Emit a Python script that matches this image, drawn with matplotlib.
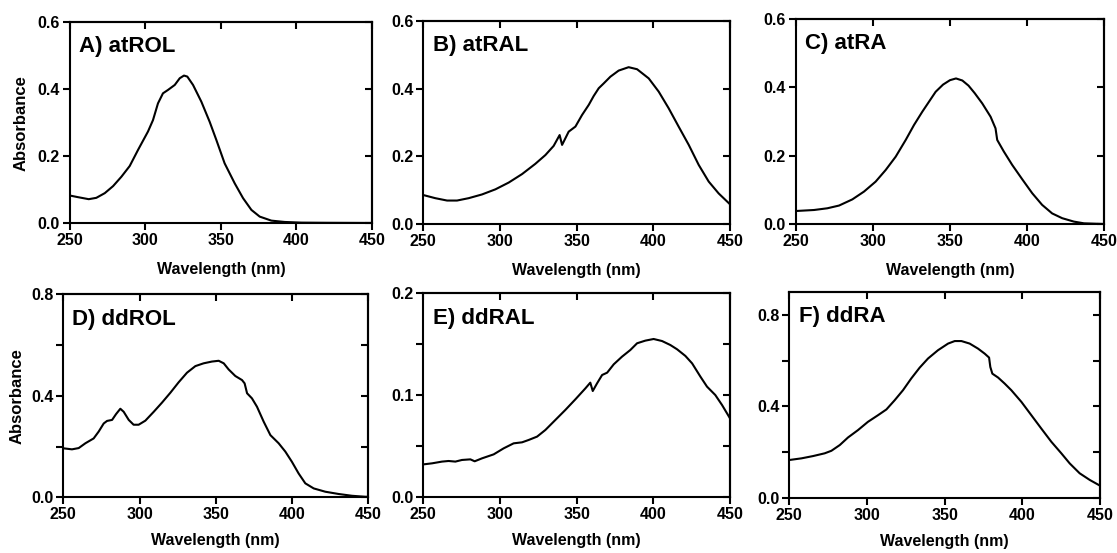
import matplotlib
matplotlib.use("Agg")
from matplotlib import pyplot as plt
import numpy as np

plt.rcParams['font.family'] = ['Liberation Sans', 'DejaVu Sans']
plt.rcParams['font.weight'] = 'bold'

# A) atROL
wl_a = [250, 255.5, 262.6, 267.6, 273.2, 278.7, 284.2, 289.7, 295.2, 301.8, 305.1, 308.4, 311.7,
        315.0, 319.5, 322.8, 325.6, 327.8, 331.6, 337.1, 342.6, 347.0, 352.5, 359.2, 364.7,
        370.2, 375.7, 383.4, 392.2, 403.3, 420, 450]
ab_a = [0.083, 0.078, 0.072, 0.076, 0.090, 0.111, 0.139, 0.171, 0.219, 0.274, 0.308, 0.358,
        0.388, 0.398, 0.413, 0.433, 0.441, 0.438, 0.413, 0.363, 0.303, 0.249, 0.179, 0.119,
        0.075, 0.040, 0.020, 0.008, 0.004, 0.002, 0.0015, 0.001]

# B) atRAL
wl_b = [250.2, 257.8, 265.5, 272.0, 279.6, 288.3, 297.0, 305.7, 314.4, 323.0, 329.6, 335.0,
        338.9, 340.5, 344.8, 349.2, 353.5, 357.9, 361.1, 364.4, 367.6, 372.0, 377.4, 383.9,
        389.4, 397.0, 403.5, 410.0, 416.5, 423.1, 429.6, 436.1, 442.6, 450]
ab_b = [0.086, 0.077, 0.070, 0.070, 0.077, 0.088, 0.103, 0.123, 0.148, 0.178, 0.204, 0.231,
        0.263, 0.234, 0.273, 0.288, 0.322, 0.352, 0.378, 0.401, 0.415, 0.435, 0.453, 0.463,
        0.457, 0.430, 0.391, 0.342, 0.288, 0.234, 0.175, 0.126, 0.091, 0.059]

# C) atRA
wl_c = [250, 261.9, 270.5, 278.1, 286.7, 294.3, 301.8, 308.3, 314.8, 321.3, 326.7, 332.1,
        336.4, 340.7, 345.5, 350.0, 353.9, 358.0, 362.0, 366.0, 370.9, 376.3, 379.5, 380.6,
        384.9, 390.3, 396.8, 403.3, 409.7, 416.2, 422.7, 430.3, 436.8, 450]
ab_c = [0.038, 0.041, 0.046, 0.054, 0.072, 0.095, 0.124, 0.158, 0.197, 0.246, 0.290, 0.329,
        0.358, 0.387, 0.408, 0.421, 0.426, 0.420, 0.405, 0.383, 0.353, 0.314, 0.280, 0.246,
        0.212, 0.173, 0.131, 0.090, 0.056, 0.031, 0.017, 0.007, 0.002, 0.000]

# D) ddROL
wl_d = [250.2, 255.7, 260.1, 264.5, 269.9, 273.2, 276.5, 278.7, 282.0, 284.6, 287.4, 289.6,
        292.9, 296.1, 299.4, 303.8, 309.3, 314.7, 320.2, 325.6, 331.1, 336.6, 342.0, 347.5,
        351.9, 355.2, 358.4, 362.8, 367.2, 368.9, 370.5, 373.7, 377.0, 381.4, 385.8, 391.2,
        395.6, 399.9, 404.3, 408.7, 414.2, 421.8, 430.6, 439.3, 448.1, 450]
ab_d = [0.193, 0.189, 0.194, 0.213, 0.232, 0.259, 0.291, 0.301, 0.305, 0.328, 0.349, 0.337,
        0.305, 0.286, 0.286, 0.302, 0.337, 0.373, 0.412, 0.453, 0.491, 0.517, 0.528, 0.535,
        0.538, 0.528, 0.504, 0.478, 0.462, 0.449, 0.410, 0.390, 0.357, 0.298, 0.245, 0.213,
        0.180, 0.140, 0.094, 0.055, 0.035, 0.022, 0.013, 0.006, 0.002, 0.002]

# E) ddRAL
wl_e = [250.2, 255.7, 262.2, 266.5, 270.9, 275.2, 280.7, 283.5, 288.3, 295.9, 302.4, 308.9,
        314.4, 318.7, 324.2, 329.6, 336.1, 342.6, 349.2, 355.7, 358.9, 360.5, 363.3, 366.6,
        369.9, 374.2, 379.6, 385.0, 389.4, 394.8, 400.2, 405.7, 411.1, 415.5, 420.9, 425.3,
        430.7, 435.0, 440.4, 444.8, 450]
ab_e = [0.0323, 0.0333, 0.0350, 0.0356, 0.0350, 0.0366, 0.0372, 0.0353, 0.0382, 0.0421,
        0.0480, 0.0529, 0.0539, 0.0562, 0.0595, 0.0660, 0.0758, 0.0856, 0.0961, 0.1068,
        0.1124, 0.1042, 0.1117, 0.1199, 0.1222, 0.1304, 0.1379, 0.1444, 0.1510, 0.1536,
        0.1552, 0.1532, 0.1493, 0.1451, 0.1386, 0.1313, 0.1183, 0.1085, 0.1003, 0.0905,
        0.0774]

# F) ddRA
wl_f = [250.2, 257.8, 265.3, 272.8, 277.1, 282.5, 287.8, 294.2, 300.6, 307.1, 312.5, 317.8,
        323.2, 328.5, 333.9, 339.3, 345.7, 352.2, 356.5, 360.8, 366.1, 371.5, 375.8, 378.6,
        379.4, 380.7, 384.4, 388.6, 392.9, 399.4, 405.8, 412.2, 418.7, 425.1, 430.5, 436.9,
        443.4, 450]
ab_f = [0.167, 0.174, 0.184, 0.196, 0.207, 0.232, 0.265, 0.297, 0.333, 0.362, 0.387, 0.427,
        0.471, 0.522, 0.569, 0.609, 0.645, 0.674, 0.685, 0.685, 0.674, 0.652, 0.630, 0.613,
        0.572, 0.543, 0.526, 0.500, 0.471, 0.420, 0.362, 0.304, 0.246, 0.196, 0.152, 0.109,
        0.080, 0.055]

titles = ['A) atROL', 'B) atRAL', 'C) atRA', 'D) ddROL', 'E) ddRAL', 'F) ddRA']
series = [(wl_a, ab_a), (wl_b, ab_b), (wl_c, ab_c), (wl_d, ab_d), (wl_e, ab_e), (wl_f, ab_f)]
ylims = [0.6, 0.6, 0.6, 0.8, 0.2, 0.9]
major = [[0, 0.2, 0.4, 0.6]] * 3 + [[0, 0.4, 0.8], [0, 0.1, 0.2], [0, 0.4, 0.8]]
minor = [[]] * 3 + [[0.2, 0.6], [0.05, 0.15], [0.2, 0.6]]

# pixel boxes (left, right, top, bottom)
W, H = 1117, 553
boxes = [(69.7, 372, 22.3, 223.3), (423.3, 730, 20.7, 224.3), (795.7, 1104.3, 19, 224),
         (63.3, 368.3, 294.3, 497.3), (423.3, 730, 293.3, 497.3), (789.3, 1100, 291.7, 498.3)]

fig = plt.figure(figsize=(W / 100, H / 100), dpi=100)
for i in range(6):
    l, r, t, b = boxes[i]
    ax = fig.add_axes([l / W, 1 - b / H, (r - l) / W, (b - t) / H])
    x, y = series[i]
    ax.plot(x, y, color='black', lw=1.5, solid_joinstyle='round')
    ax.set_xlim(250, 450)
    ax.set_ylim(0, ylims[i])
    ax.set_xticks([250, 300, 350, 400, 450])
    ax.set_yticks(major[i])
    ax.set_yticks(minor[i], minor=True)
    ax.yaxis.set_major_formatter(matplotlib.ticker.FormatStrFormatter('%.1f'))
    for s in ax.spines.values():
        s.set_linewidth(1.5)
    ax.tick_params(which='both', direction='out', length=5, width=1.5, labelsize=11.5, pad=2)
    # inward ticks on top and right
    sx = ax.secondary_xaxis('top')
    sx.set_xticks([250, 300, 350, 400, 450])
    sx.tick_params(direction='in', length=5, width=1.5, labeltop=False)
    sy = ax.secondary_yaxis('right')
    sy.set_yticks(major[i])
    sy.set_yticks(minor[i], minor=True)
    sy.tick_params(which='both', direction='in', length=5, width=1.5, labelright=False)
    sy.spines['right'].set_linewidth(1.5)
    sx.spines['top'].set_linewidth(1.5)
    ax.set_xlabel('Wavelength (nm)', fontsize=11.5, fontweight='bold',
                  labelpad=10 if i < 3 else 8)
    if i in (0, 3):
        ax.set_ylabel('Absorbance', fontsize=12, fontweight='bold')
        ax.yaxis.set_label_coords(-0.135 if i == 0 else -0.128, 0.5)
    ax.text(0.03, 0.93, titles[i], transform=ax.transAxes, fontsize=16,
            fontweight='bold', va='top', ha='left')

fig.savefig('out.png', dpi=100)
